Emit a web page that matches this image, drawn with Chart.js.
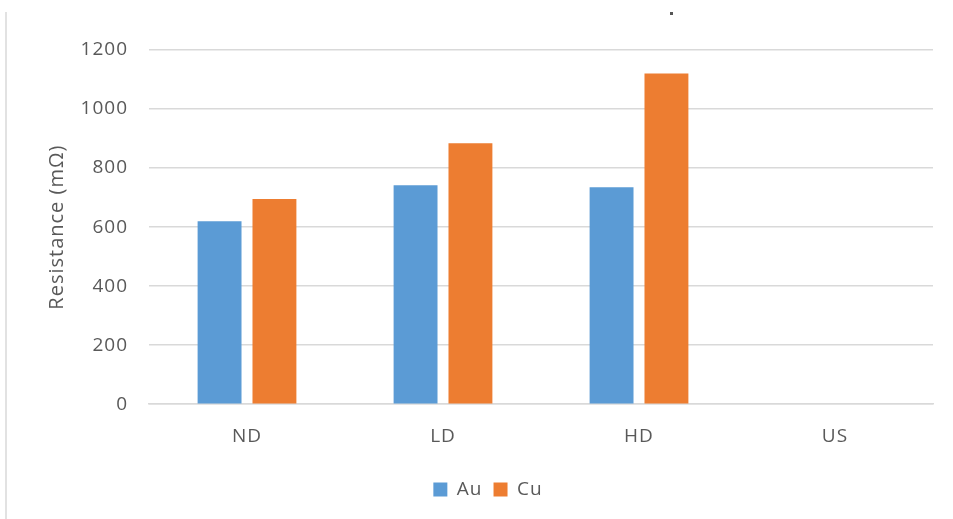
<!DOCTYPE html>
<html>
<head>
<meta charset="utf-8">
<script src="https://cdn.jsdelivr.net/npm/chart.js@4.4.1/dist/chart.umd.min.js"></script>
<style>
  html, body { margin: 0; padding: 0; background: #ffffff; }
  #wrap { position: relative; width: 953px; height: 519px; }
</style>
</head>
<body>
<div id="wrap"><canvas id="chart" width="953" height="519"></canvas></div>
<script>
// Contact resistance per test condition
const categories = ['ND', 'LD', 'HD', 'US'];
const auValues = [620, 742, 735, null];
const cuValues = [695, 884, 1120, null];
const yTicks = [0, 200, 400, 600, 800, 1000, 1200];

const FONT = '"Open Sans", "Liberation Sans", sans-serif';
const TEXT = '#595959';
const GRID = '#d9d9d9';

// Slightly open letter spacing for all chart text
const spacingPlugin = {
  id: 'spacing',
  beforeUpdate(chart) { chart.ctx.letterSpacing = '1px'; },
  beforeDraw(chart) { chart.ctx.letterSpacing = '1px'; }
};

// Outer frame edge on the left and a small mark at the top
const framePlugin = {
  id: 'frame',
  beforeDraw(chart) {
    const ctx = chart.ctx;
    ctx.save();
    ctx.fillStyle = '#ffffff';
    ctx.fillRect(0, 0, chart.width, chart.height);
    ctx.strokeStyle = GRID;
    ctx.lineWidth = 1.5;
    ctx.beginPath();
    ctx.moveTo(6, 12);
    ctx.lineTo(6, chart.height);
    ctx.stroke();
    ctx.fillStyle = '#555555';
    ctx.fillRect(670, 12, 3, 3);
    ctx.restore();
  }
};

new Chart(document.getElementById('chart'), {
  type: 'bar',
  data: {
    labels: categories,
    datasets: [
      { label: 'Au', data: auValues, backgroundColor: '#5B9BD5',
        categoryPercentage: 0.56, barPercentage: 0.8 },
      { label: 'Cu', data: cuValues, backgroundColor: '#ED7D31',
        categoryPercentage: 0.56, barPercentage: 0.8 }
    ]
  },
  options: {
    responsive: false,
    animation: false,
    layout: { padding: { top: 50, right: 20, left: 43, bottom: 10 } },
    plugins: {
      legend: {
        position: 'bottom',
        labels: {
          boxWidth: 14, boxHeight: 14, padding: 11,
          color: TEXT, font: { family: FONT, size: 19 }
        }
      },
      tooltip: { enabled: false }
    },
    scales: {
      x: {
        grid: { display: false, drawTicks: false },
        border: { display: true, color: GRID, width: 1.5 },
        ticks: { color: TEXT, padding: 21, font: { family: FONT, size: 19 } }
      },
      y: {
        min: 0, max: 1200,
        afterFit(scale) { scale.width = 106; },
        afterBuildTicks(scale) { scale.ticks = yTicks.map(v => ({ value: v })); },
        grid: { color: GRID, lineWidth: 1.5, drawTicks: false },
        border: { display: false },
        ticks: {
          color: TEXT, padding: 21, font: { family: FONT, size: 19 },
          callback: (v) => String(v)
        },
        title: {
          display: true, text: 'Resistance (mΩ)', color: TEXT,
          font: { family: FONT, size: 20 }, padding: { top: 2, bottom: 0 }
        }
      }
    }
  },
  plugins: [spacingPlugin, framePlugin]
});
</script>
</body>
</html>
